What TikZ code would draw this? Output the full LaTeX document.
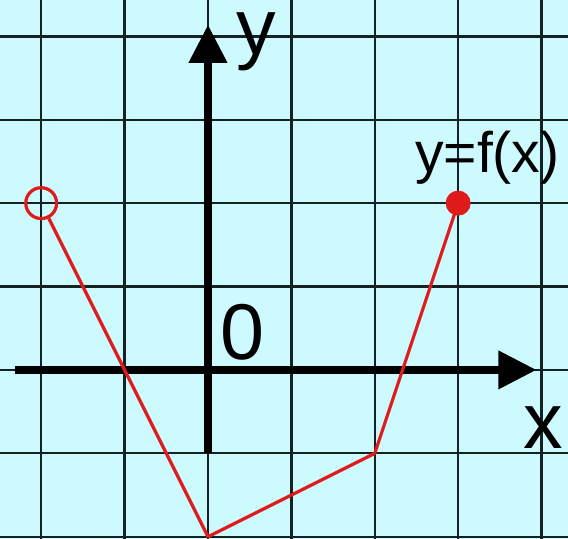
\documentclass[tikz,border=0pt]{standalone}
\usepackage{fontspec}
\setmainfont{Liberation Sans}
\usetikzlibrary{arrows.meta}

\definecolor{bgcyan}{RGB}{204,250,255}
\definecolor{gridcol}{RGB}{20,34,34}
\definecolor{graphred}{RGB}{222,28,28}

\begin{document}
\begin{tikzpicture}[
    x=1cm, y=1cm,
    gridline/.style={draw=gridcol, line width=0.8pt},
    axis/.style={draw=black, line width=2.7pt, -{Triangle[length=13pt,width=12.5pt]}},
    graph/.style={draw=graphred, line width=1.1pt, line join=round},
    opendot/.style={circle, draw=graphred, line width=1.1pt, minimum size=0.37cm, inner sep=0pt},
    fulldot/.style={circle, fill=graphred, minimum size=0.3cm, inner sep=0pt},
    axislabel/.style={font=\fontsize{27}{27}\selectfont, inner sep=0pt, anchor=base},
    funclabel/.style={font=\fontsize{19.5}{19.5}\selectfont, inner sep=0pt, anchor=base}
]

% Background and grid
\fill[bgcyan] (-2.494,-2.026) rectangle (4.317,4.436);
\useasboundingbox (-2.494,-2.026) rectangle (4.317,4.436);
\draw[gridline] (-2.494,-2.026) grid (4.317,4.436);

% Axes
\coordinate (xstart) at (-2.31,0);
\coordinate (xend) at (3.94,0);
\coordinate (ystart) at (0,-1);
\coordinate (yend) at (0,4.14);
\draw[axis] (xstart) -- (xend);
\draw[axis] (ystart) -- (yend);

% Axis labels
\node[axislabel, text height=0.52em] (ylab) at (0.58,3.78) {y};
\node[axislabel] (xlab) at (4.02,-0.94) {x};
\node[axislabel] (origin) at (0.41,0.12) {0};

% Graph of f
\node[opendot] (start) at (-2,2) {};
\node[coordinate] (bottom) at (0,-2) {};
\node[coordinate] (knee) at (2,-1) {};
\node[fulldot] (end) at (3,2) {};
\draw[graph] (start) -- (bottom) -- (knee) -- (end.center);

\node[funclabel] (flab) at (3.35,2.37) {y=f(x)};

\end{tikzpicture}
\end{document}
